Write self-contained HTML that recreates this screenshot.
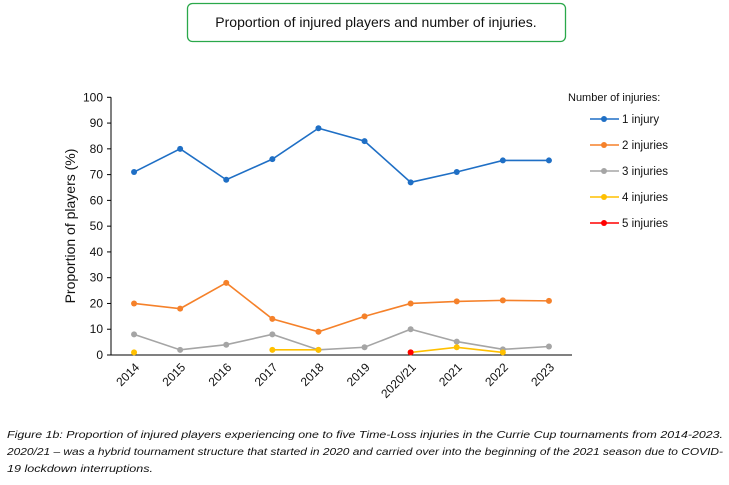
<!DOCTYPE html>
<html><head><meta charset="utf-8"><style>
body{margin:0;background:#fff;width:729px;height:480px;overflow:hidden;font-family:"Liberation Sans",sans-serif}
</style></head><body>
<svg id="chart" width="729" height="480" xmlns="http://www.w3.org/2000/svg">
<rect x="187.5" y="3.5" width="378" height="38" rx="5" fill="#fff" stroke="#2aa84a" stroke-width="1.3"/>
<text x="376" y="27" text-anchor="middle" font-size="14" fill="#111">Proportion of injured players and number of injuries.</text>
<text x="75" y="226" transform="rotate(-90 75 226)" text-anchor="middle" font-size="14" fill="#111">Proportion of players (%)</text>
<g id="axes"></g><g id="series"></g><g id="legend"></g>
<g font-style="italic" font-size="10.5" fill="#111">
<text x="7" y="438" textLength="716" lengthAdjust="spacingAndGlyphs">Figure 1b: Proportion of injured players experiencing one to five Time-Loss injuries in the Currie Cup tournaments from 2014-2023.</text>
<text x="7" y="455" textLength="716" lengthAdjust="spacingAndGlyphs">2020/21 – was a hybrid tournament structure that started in 2020 and carried over into the beginning of the 2021 season due to COVID-</text>
<text x="7" y="472" textLength="146" lengthAdjust="spacingAndGlyphs">19 lockdown interruptions.</text>
</g>
</svg>
<script>
const categories=["2014","2015","2016","2017","2018","2019","2020/21","2021","2022","2023"];
const oneInjury=[71,80,68,76,88,83,67,71,75.5,75.5];
const twoInjuries=[20,18,28,14,9,15,20,20.8,21.2,21];
const threeInjuries=[8,2,4,8,2,3,10,5.2,2.2,3.3];
const fourInjuries=[1,null,null,2,2,null,1,3,1,null];
const fiveInjuries=[null,null,null,null,null,null,1,null,null,null];
const yTicks=[0,10,20,30,40,50,60,70,80,90,100];
const seriesNames=["1 injury","2 injuries","3 injuries","4 injuries","5 injuries"];
const seriesColors=["#1f6fc5","#f5812a","#a5a5a5","#ffc000","#ff0000"];
const NS="http://www.w3.org/2000/svg";
const x0=111,x1=572,y0=355,y1=97.3;
const band=(x1-x0)/categories.length;
function xs(i){return x0+band*(i+0.5);}
function ys(v){return y0-(v/100)*(y0-y1);}
function mk(tag,attrs,parent){const e=document.createElementNS(NS,tag);for(const k in attrs)e.setAttribute(k,attrs[k]);parent.appendChild(e);return e;}
const axes=document.getElementById('axes');
const yax=mk('line',{x1:x0,y1:y1,x2:x0,y2:y0,stroke:'#000','stroke-width':1},axes);


const xax=mk('line',{x1:x0,y1:y0,x2:x1,y2:y0,stroke:'#000','stroke-width':1},axes);


yTicks.forEach(t=>{
  mk('line',{x1:x0-4,y1:ys(t),x2:x0,y2:ys(t),stroke:'#000'},axes);
  const tx=mk('text',{x:x0-8,y:ys(t)+4,'text-anchor':'end','font-size':12,fill:'#111'},axes);
  tx.textContent=t;
  
  
});
categories.forEach((c,i)=>{
  const cx=xs(i)+6,cy=368;
  const tx=mk('text',{x:cx,y:cy,'text-anchor':'end','font-size':12,fill:'#111',transform:`rotate(-45 ${cx} ${cy})`},axes);
  tx.textContent=c;
  
  
});
const sg=document.getElementById('series');
[oneInjury,twoInjuries,threeInjuries,fourInjuries,fiveInjuries].forEach((arr,s)=>{
  const g=mk('g',{},sg);
  
  
  let seg=[];
  const flush=()=>{if(seg.length>1)mk('polyline',{points:seg.join(' '),fill:'none',stroke:seriesColors[s],'stroke-width':1.6},g);seg=[];};
  arr.forEach((v,i)=>{if(v==null){flush();return;}seg.push(xs(i)+','+ys(v));});
  flush();
  arr.forEach((v,i)=>{if(v==null)return;
    const p=mk('circle',{cx:xs(i),cy:ys(v),r:3,fill:seriesColors[s]},g);
    
    
  });
});
const lg=document.getElementById('legend');
const lt=mk('text',{x:568,y:101,'font-size':11,fill:'#111'},lg);
lt.textContent='Number of injuries:';


seriesNames.forEach((n,s)=>{
  const y=119+26*s;
  const g=mk('g',{},lg);
  
  
  mk('line',{x1:590,y1:y,x2:619,y2:y,stroke:seriesColors[s],'stroke-width':1.6},g);
  mk('circle',{cx:604,cy:y,r:3,fill:seriesColors[s]},g);
  const t=mk('text',{x:622,y:y+4,'font-size':11.5,fill:'#111'},g);
  t.textContent=n;
});
</script>
</body></html>
